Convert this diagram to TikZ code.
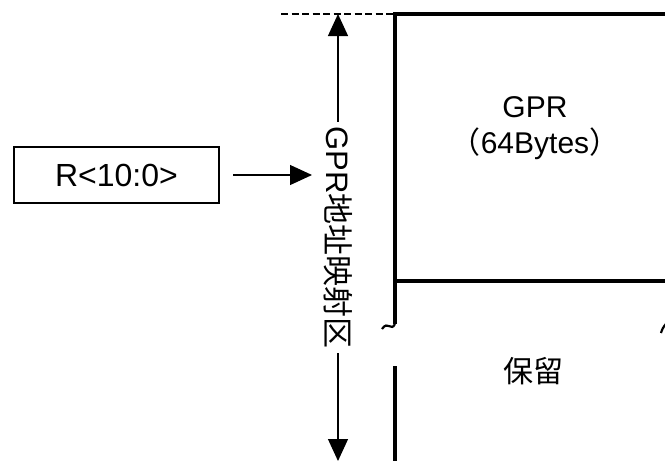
\documentclass[tikz,border=0pt]{standalone}
\usepackage{fontspec}
\setmainfont{Liberation Sans}
\newfontfamily\cjk{Noto Sans CJK SC}
\usetikzlibrary{arrows.meta}
\begin{document}
\begin{tikzpicture}[x=1pt,y=-1pt,
  heavy/.style={line width=3.2pt},
  arr/.style={line width=1.2pt,-{Triangle[length=22pt,width=20pt]}},
  darr/.style={line width=1.2pt,{Triangle[length=22pt,width=20pt]}-{Triangle[length=22pt,width=20pt]}},
  lbl/.style={font=\fontsize{30}{34}\selectfont, inner sep=0pt},
  brk/.style={line width=2.2pt}]
\useasboundingbox (0,0) rectangle (665,461);
% register box
\node[draw, line width=2.4pt, minimum width=205pt, minimum height=56pt, lbl, font=\fontsize{32}{36}\selectfont] (reg) at (116.5,175) {R<10:0>};
\coordinate (h2) at (312,175);
\draw[arr] ([xshift=13pt]reg.east) -- (h2);
% vertical range arrow
\coordinate (vt) at (338,14);
\coordinate (vb) at (338,461);
\draw[darr] (vt) -- node[rotate=-90, fill=white, lbl, font=\fontsize{31}{35}\selectfont, inner xsep=4pt, inner ysep=2pt] (vlabel) {GPR{\cjk 地址映射区}} (vb);
% dashed top mark
\coordinate (dl) at (281,14);
\coordinate (tl) at (395,14);
\draw[dash pattern=on 7pt off 3.5pt, line width=1.8pt] (dl) -- (tl);
% memory map
\coordinate (tr) at (667,14);
\coordinate (ml) at (395,281);
\coordinate (mr) at (667,281);
\coordinate (bl) at (395,324);
\coordinate (ll) at (395,366);
\coordinate (lb) at (395,463);
\draw[heavy] (tr) -- (tl) -- (bl);
\draw[heavy] (ml) -- (mr);
\draw[heavy] (ll) -- (lb);
% break marks
\draw[brk] (bl) .. controls (391,332) and (388,320) .. (382,329);
\draw[brk] (661,333) .. controls (663,326) and (666,324) .. (668,322);
% labels
\node[lbl] (gpr) at (535,107) {GPR};
\node[lbl] (size) at (535,144) {{\cjk （}64Bytes{\cjk ）}};
\node[lbl] (rsv) at (533,371) {\cjk 保留};
\end{tikzpicture}
\end{document}
